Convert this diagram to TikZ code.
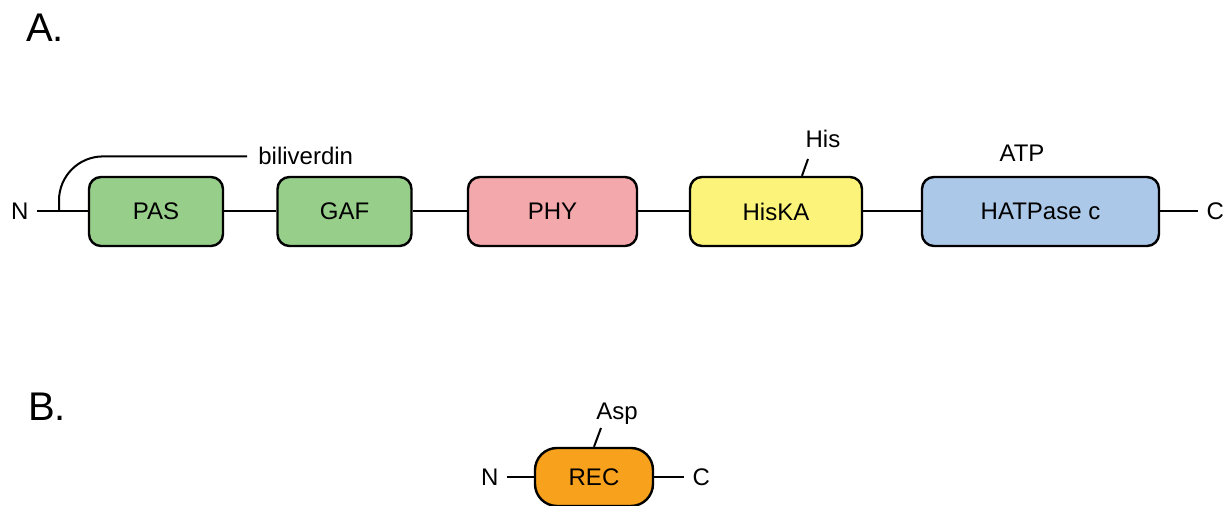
\documentclass[tikz,border=0pt]{standalone}
\usepackage{fontspec}
\setmainfont{Liberation Sans}
\usetikzlibrary{positioning, calc}
\definecolor{cgaf}{RGB}{150, 206, 138}
\definecolor{cphy}{RGB}{243, 168, 172}
\definecolor{chis}{RGB}{252, 244, 122}
\definecolor{catp}{RGB}{172, 200, 232}
\definecolor{crec}{RGB}{247, 161,  28}
\tikzset{
  dom/.style   = {rectangle, rounded corners=6pt, draw=black, line width=1.2pt,
                  font=\fontsize{12}{14}\selectfont,
                  minimum height=34.5pt, inner sep=0pt},
  gafd/.style  = {dom, fill=cgaf, minimum width=67pt},
  phyd/.style  = {dom, fill=cphy, minimum width=84.5pt},
  hisd/.style  = {dom, fill=chis, minimum width=86pt},
  atpd/.style  = {dom, fill=catp, minimum width=118.5pt},
  recd/.style  = {dom, fill=crec, minimum width=59pt, minimum height=29pt,
                  rounded corners=11pt},
  term/.style  = {font=\fontsize{12}{14}\selectfont, inner sep=4pt},
  site/.style  = {font=\fontsize{12}{14}\selectfont, inner sep=0pt},
  panel/.style = {font=\fontsize{20}{24}\selectfont, inner sep=0pt},
  chain/.style = {line width=1pt},
}

\begin{document}
\begin{tikzpicture}[x=0.5pt, y=-0.5pt]
\useasboundingbox (0,0) rectangle (1223,506);

% ── Row y-coordinates ───────────────────────────────────────────────────────
\def\yA{211.5}  % A : phytochrome kinase
\def\yB{477}    % B : response regulator

% ── Panel letters ───────────────────────────────────────────────────────────
\node[panel] (lA) at (45, 28)  {A.};
\node[panel] (lB) at (47, 407) {B.};

% ── A: domains ──────────────────────────────────────────────────────────────
\node[gafd] (pas)   at (156,   \yA) {PAS};
\node[gafd] (gaf)   at (344.5, \yA) {GAF};
\node[phyd] (phy)   at (552.5, \yA) {PHY};
\node[hisd] (hiska) at (776,   \yA) {HisKA};
\node[atpd] (atp)   at (1040.5,\yA) {HATPase c};

\node[term, left=25.5pt of pas] (nA) {N};
\node[term, right=19pt of atp]  (cA) {C};

% ── A: backbone ─────────────────────────────────────────────────────────────
\draw[chain] (nA)    -- (pas);
\draw[chain] (pas)   -- (gaf);
\draw[chain] (gaf)   -- (phy);
\draw[chain] (phy)   -- (hiska);
\draw[chain] (hiska) -- (atp);
\draw[chain] (atp)   -- (cA);

% ── A: sites ────────────────────────────────────────────────────────────────
\node[site, anchor=base west, inner xsep=5.5pt] (biliv) at (247, 165) {biliverdin};
\coordinate (bv) at (59, \yA);
\draw[chain, rounded corners=22pt] (bv) |- (biliv.west);

\node[site, anchor=base] (his) at (823, 148) {His};
\coordinate (hisT) at (808, 159);
\draw[chain] ($(hiska.north)+(26,0)$) -- (hisT);

\node[site, anchor=base] (atpl) at (1022, 162) {ATP};

% ── B: receiver ─────────────────────────────────────────────────────────────
\node[recd] (rec) at (594, \yB) {REC};
\node[term, left=13.5pt of rec] (nB) {N};
\node[term, right=15pt of rec]  (cB) {C};
\draw[chain] (nB)  -- (rec);
\draw[chain] (rec) -- (cB);

\node[site, anchor=base] (asp) at (617, 420) {Asp};
\coordinate (aspT) at (601, 428);
\draw[chain] (rec.north) -- (aspT);

\end{tikzpicture}
\end{document}
